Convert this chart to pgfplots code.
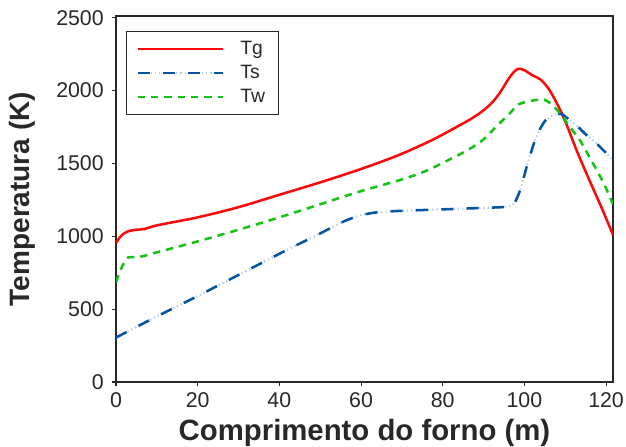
\documentclass[border=0pt]{standalone}
\usepackage{pgfplots}
\pgfplotsset{compat=1.18}
\usepackage{fontspec}
\setmainfont{Liberation Sans}
\definecolor{tgred}{RGB}{250,10,10}
\definecolor{tsblue}{RGB}{5,85,165}
\definecolor{tslight}{RGB}{175,205,235}
\definecolor{twgreen}{RGB}{20,195,20}
\definecolor{axgray}{RGB}{40,40,40}
\begin{document}
\begin{tikzpicture}
\begin{axis}[
  name=ax,
  scale only axis,
  width=372.75pt, height=274.5pt,
  xmin=0, xmax=121.7, ymin=0, ymax=2512,
  xtick={0,20,40,60,80,100,120},
  ytick={0,500,1000,1500,2000,2500},
  xtick pos=left, ytick pos=left,
  tick align=outside,
  major tick length=3pt,
  axis line style={axgray, line width=2.2pt},
  every tick/.style={axgray, line width=0.8pt},
  /pgf/number format/assume math mode=true,
  /pgf/number format/1000 sep={},
  tick label style={font=\fontsize{16}{18}\selectfont, text=axgray, inner sep=0pt},
  yticklabel style={anchor=east, xshift=-6pt},
  xticklabel style={anchor=north, yshift=-4.5pt},
  xlabel={Comprimento do forno (m)},
  ylabel={Temperatura (K)},
  xlabel style={font=\fontsize{22}{24}\selectfont\bfseries, text=axgray,
    at={(axis description cs:0.5,0)}, anchor=base, yshift=-44pt, inner sep=0pt},
  ylabel style={font=\fontsize{21}{23}\selectfont\bfseries, text=axgray,
    at={(axis description cs:0,0.5)}, anchor=center, yshift=70.5pt, inner sep=0pt},
  legend style={at={(0.020,0.959)}, anchor=north west, draw=axgray, line width=0.8pt,
    font=\fontsize{14.5}{16}\selectfont, text=axgray, inner xsep=7.5pt, inner ysep=6.5pt,
    row sep=4.5pt, column sep=12pt,
    nodes={inner sep=0pt, text height=10.5pt, text depth=3pt, text width=21pt, align=left}},
  legend image code/.code={\draw[#1] (0pt,0pt) -- (64pt,0pt);},
]
\addplot[tgred, line width=1.9pt, smooth, tension=0.5] coordinates {
(0,955) (1,995) (2,1020) (3,1035) (5,1045) (7,1050) (10,1075) (20,1130) (30,1200)
(40,1285) (50,1370) (60,1462) (69,1555) (77.5,1662) (85.7,1786) (88,1825) (90,1865)
(92,1915) (94,1985) (96,2075) (97.5,2130) (98.6,2150) (100,2140) (102,2105) (104,2075) (106,2010)
(108,1910) (110,1790) (113,1575) (116,1380) (119,1190) (121.7,1010)};
\addlegendentry{Tg}
\addplot[tslight, line width=1.6pt, dash pattern=on 1pt off 2.2pt, smooth, tension=0.4, forget plot] coordinates {
(0,305) (10,450) (20,590) (30,735) (40,880) (50,1020) (56,1105) (60,1145) (64,1165)
(70,1175) (80,1185) (90,1195) (96,1203) (97.5,1225) (99,1320) (101,1520) (103,1690)
(105,1790) (107,1830) (109,1840) (111,1800) (113,1755) (115,1700) (117.7,1637) (121.7,1522)};
\addplot[tsblue, line width=1.9pt, dash pattern=on 9pt off 10pt, smooth, tension=0.4,
  legend image code/.code={
    \draw[tslight, line width=1.6pt, dash pattern=on 1pt off 2.2pt] (0pt,0pt) -- (64pt,0pt);
    \draw[tsblue, line width=1.9pt, dash pattern=on 9pt off 10pt] (0pt,0pt) -- (64pt,0pt);}] coordinates {
(0,305) (10,450) (20,590) (30,735) (40,880) (50,1020) (56,1105) (60,1145) (64,1165)
(70,1175) (80,1185) (90,1195) (96,1203) (97.5,1225) (99,1320) (101,1520) (103,1690)
(105,1790) (107,1830) (109,1840) (111,1800) (113,1755) (115,1700) (117.7,1637) (121.7,1522)};
\addlegendentry{Ts}
\addplot[twgreen, line width=1.9pt, dash pattern=on 5.5pt off 4.5pt, smooth, tension=0.5] coordinates {
(0,685) (1,760) (2,820) (3,855) (6,860) (10,890) (20,965) (30,1045) (40,1130) (50,1220)
(60,1310) (70,1390) (76,1450) (81.6,1526) (86,1590) (89.8,1660) (93,1750) (96.4,1843)
(98.5,1905) (100.8,1924) (104,1940) (105.5,1930) (107,1895) (109,1835) (111,1755) (113.6,1660)
(116,1540) (118,1440) (120,1330) (121.7,1220)};
\addlegendentry{Tw}
\end{axis}
\pgfresetboundingbox
\path[use as bounding box] ([shift={(-87pt,-48pt)}]ax.south west) rectangle ([shift={(9.75pt,12pt)}]ax.north east);
\end{tikzpicture}
\end{document}
